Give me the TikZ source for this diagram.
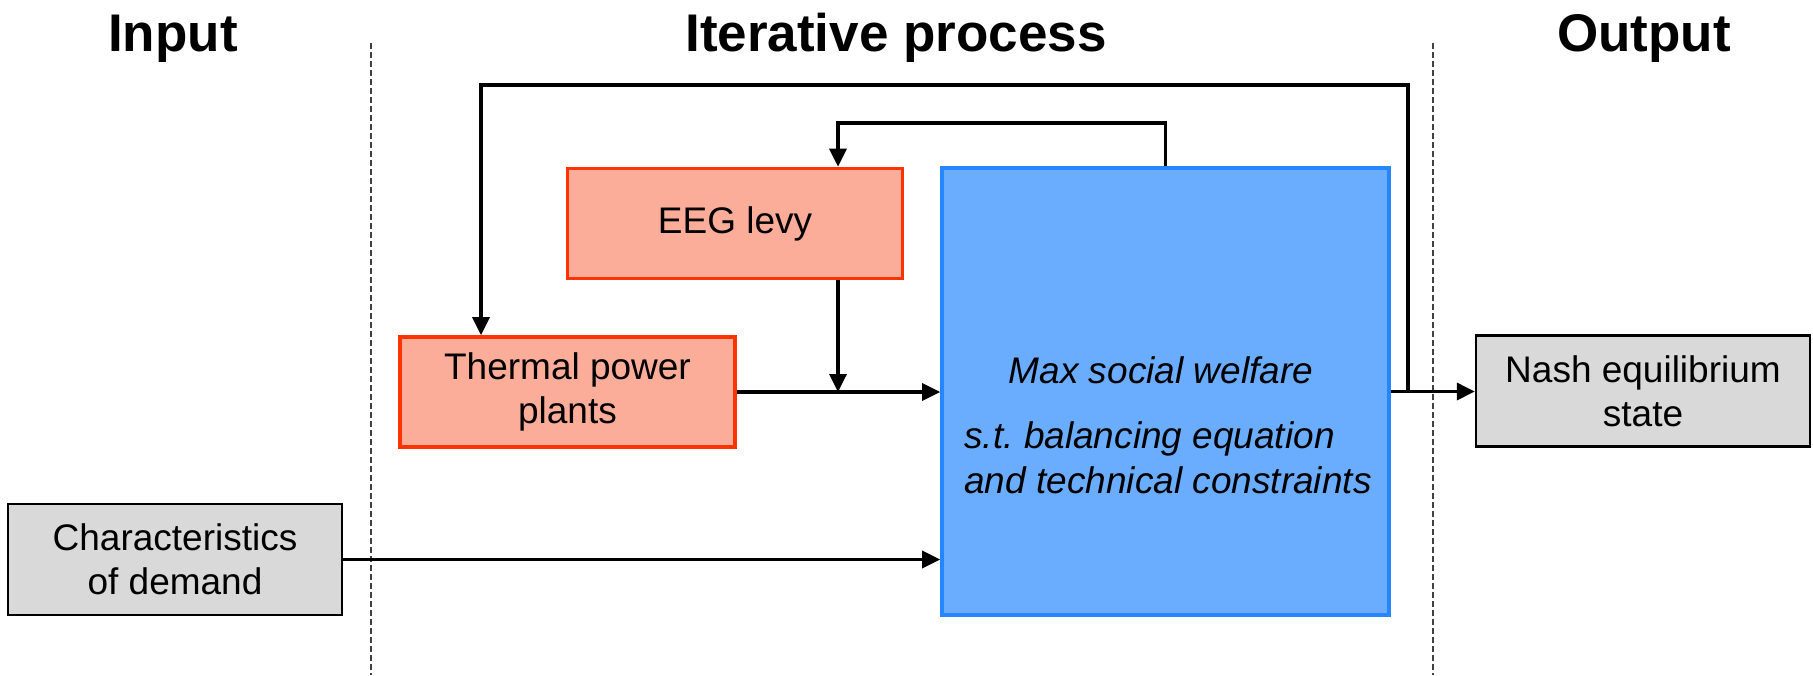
\documentclass[tikz,border=0pt]{standalone}
\usepackage{fontspec}
\setmainfont{Liberation Sans}
\usetikzlibrary{arrows.meta,calc}
\definecolor{redfill}{RGB}{252,173,153}
\definecolor{redline}{RGB}{255,51,0}
\definecolor{bluefill}{RGB}{106,173,254}
\definecolor{blueline}{RGB}{38,134,255}
\definecolor{grayfill}{RGB}{217,217,217}
\frenchspacing
\begin{document}
\begin{tikzpicture}[x=0.5pt,y=-0.5pt,
  box/.style={draw, rectangle, align=center, inner sep=0pt, font=\fontsize{18.5}{22}\selectfont},
  redbox/.style={box, draw=redline, fill=redfill, line width=1.8pt, minimum width=167.5pt, minimum height=55pt},
  graybox/.style={box, draw=black, fill=grayfill, line width=1.2pt, minimum width=167pt, minimum height=55.5pt},
  bluebox/.style={box, draw=blueline, fill=bluefill, line width=1.8pt, minimum width=223.5pt, minimum height=223.5pt},
  conn/.style={line width=1.7pt, -{Triangle[length=9pt,width=8.5pt]}},
  sepline/.style={dash pattern=on 3pt off 1.5pt, line width=0.6pt, draw=black!75},
  headtxt/.style={font=\fontsize{26.5}{30}\selectfont\bfseries, anchor=base, inner sep=0pt},
  bluetxt/.style={font=\fontsize{18.5}{22}\selectfont\itshape, inner sep=0pt}
]
\useasboundingbox (0,0) rectangle (1813,675);
% separators
\coordinate (d1t) at (371,43);
\coordinate (d1b) at (371,675);
\coordinate (d2t) at (1433,43);
\coordinate (d2b) at (1433,675);
\draw[sepline] (d1t) -- (d1b);
\draw[sepline] (d2t) -- (d2b);
% headings
\node[headtxt] (hin) at (173,51) {Input};
\node[headtxt] (hit) at (896,51) {Iterative process};
\node[headtxt] (hout) at (1644,51) {Output};
% boxes
\node[redbox] (eeg) at (735,223.5) {EEG levy};
\node[redbox] (thermal) at (567.5,392) {Thermal power\\plants};
\node[bluebox] (model) at (1165.5,391.5) {};
\node[graybox] (nash) at (1643,391) {Nash equilibrium\\state};
\node[graybox] (demand) at (175,559.5) {Characteristics\\of demand};
% blue box text
\node[bluetxt, anchor=base] (obj) at (1161,383) {Max social welfare};
\node[bluetxt, anchor=base west] (st1) at (964,448) {s.t. balancing equation};
\node[bluetxt, anchor=base west] (st2) at (964,493) {and technical constraints};
% connectors
\coordinate (junc) at (838,392);
\coordinate (il) at (838,123);
\coordinate (ol) at (1408,85);
\coordinate (olx) at (481,85);
\draw[conn] (thermal.east) -- (thermal.east -| model.west);
\draw[conn] (eeg.south -| junc) -- (junc);
\draw[conn] (model.north) -- (model.north |- il) -- (il) -- (il |- eeg.north);
\draw[conn] (model.east) -- (model.east -| nash.west);
\draw[conn] (ol |- model.east) -- (ol) -- (olx) -- (olx |- thermal.north);
\draw[conn] (demand.east) -- (demand.east -| model.west);
\end{tikzpicture}
\end{document}
